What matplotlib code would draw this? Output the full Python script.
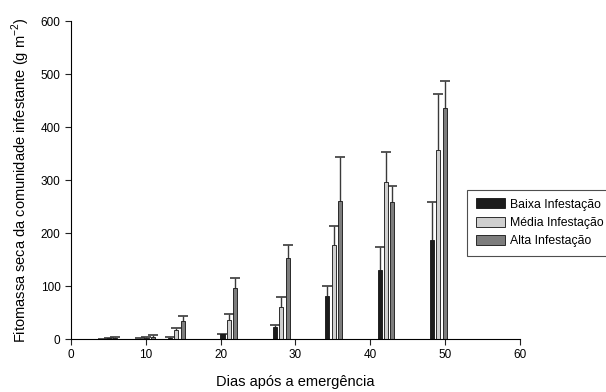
import matplotlib.pyplot as plt
import numpy as np

plt.rcParams['font.family'] = ['Liberation Sans', 'DejaVu Sans']
plt.rcParams['mathtext.fontset'] = 'custom'
plt.rcParams['mathtext.rm'] = 'Liberation Sans'

dias = [5, 10, 14, 21, 28, 35, 42, 49]
baixa = [0.5, 1, 2.5, 9, 23, 81, 130, 187]
baixa_err = [0.5, 0.5, 0.5, 1, 3, 20, 44, 71]
media = [1.5, 2, 17, 36, 60, 177, 296, 356]
media_err = [1, 1, 4, 12, 19, 37, 58, 106]
alta = [2.5, 4.5, 34, 97, 153, 260, 258, 436]
alta_err = [1.5, 2.5, 9, 19, 24, 83, 31, 52]

nomes = ['Baixa Infestação', 'Média Infestação', 'Alta Infestação']
cores = ['#1c1c1c', '#cfcfcf', '#7d7d7d']

fig = plt.figure(figsize=(6.06, 3.92), dpi=100)
ax = fig.add_axes([0.117, 0.135, 0.741, 0.811])

x = np.array(dias) + 0.1
w = 0.55
desloc = [-0.85, 0, 0.85]
for serie, erro, d, cor, nome in zip([baixa, media, alta], [baixa_err, media_err, alta_err], desloc, cores, nomes):
    xs = x + d
    ys = np.array(serie)
    es = np.array(erro)
    ax.bar(xs, ys, width=w, color=cor, edgecolor='#111111', linewidth=0.6, label=nome, zorder=2)
    # barra de erro so para cima
    ax.vlines(xs, ys, ys + es, color='#3a3a3a', linewidth=1, zorder=1)
    ax.plot(xs, ys + es, linestyle='none', marker='_', markersize=7, mew=1.2, color='#3a3a3a', zorder=1)

ax.set_xlim(0, 60)
ax.set_ylim(0, 600)
ax.set_xticks(range(0, 61, 10))
ax.set_yticks(range(0, 601, 100))
ax.spines['top'].set_visible(False)
ax.spines['right'].set_visible(False)
ax.tick_params(labelsize=8.5, length=4, color='#222222')
ax.set_ylabel('Fitomassa seca da comunidade infestante (g m$^{-2}$)', fontsize=10.5, labelpad=6)
ax.set_xlabel('Dias após a emergência', fontsize=10.5, labelpad=10)

leg = fig.legend(loc='upper left', bbox_to_anchor=(0.771, 0.516), fontsize=8.8, frameon=True,
                 fancybox=False, edgecolor='#222222', handlelength=2.4, handleheight=0.9,
                 handletextpad=0.4, borderpad=0.7, borderaxespad=0, labelspacing=0.5)
leg.get_frame().set_linewidth(0.8)

fig.savefig('out.png', dpi=100)
